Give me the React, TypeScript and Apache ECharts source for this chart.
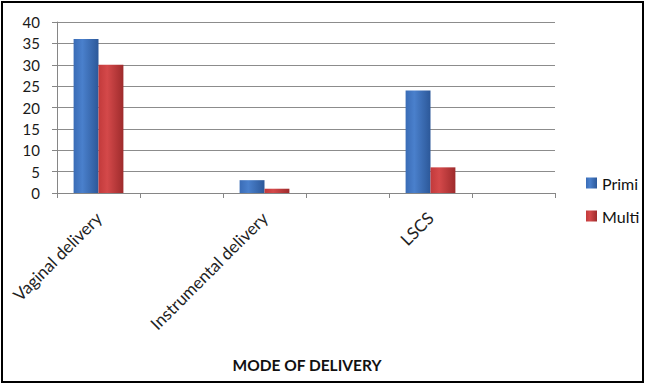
import React, { useEffect, useRef } from "react";
import * as echarts from "echarts";

// Delivery modes; blank slots keep the spacing between the groups
const categories = ["Vaginal delivery", "", "Instrumental delivery", "", "LSCS", ""];
const primiValues = [36, null, 3, null, 24, null];
const multiValues = [30, null, 1, null, 6, null];
const yTicks = { min: 0, max: 40, interval: 5 };

const FONT = "Lato, 'Liberation Sans', sans-serif";

const blueFill = new echarts.graphic.LinearGradient(0, 0, 1, 0, [
  { offset: 0, color: "#3a6cb6" },
  { offset: 0.35, color: "#4a80cc" },
  { offset: 1, color: "#2c5899" },
]);
const redFill = new echarts.graphic.LinearGradient(0, 0, 1, 0, [
  { offset: 0, color: "#c23a3b" },
  { offset: 0.35, color: "#d4494a" },
  { offset: 1, color: "#9e2b2c" },
]);

export default function App() {
  const ref = useRef<HTMLDivElement>(null);

  useEffect(() => {
    if (!ref.current) return;
    const chart = echarts.init(ref.current, undefined, { renderer: "svg" });
    chart.setOption({
      animation: false,
      backgroundColor: "#ffffff",
      grid: { left: 57, top: 22, right: 91, bottom: 192, containLabel: false },
      legend: {
        orient: "vertical",
        left: 586,
        top: 175,
        padding: 0,
        itemWidth: 11,
        itemHeight: 11,
        itemGap: 17,
        icon: "rect",
        textStyle: { fontFamily: FONT, fontSize: 16, lineHeight: 16, color: "#111" },
        data: ["Primi", "Multi"],
      },
      xAxis: {
        type: "category",
        data: categories,
        axisLine: { lineStyle: { color: "#868686", width: 1 } },
        axisTick: { show: true, length: 5, lineStyle: { color: "#868686" } },
        axisLabel: {
          interval: 0,
          rotate: 45,
          margin: 22,
          fontFamily: FONT,
          fontSize: 17,
          color: "#222",
        },
      },
      yAxis: {
        type: "value",
        min: yTicks.min,
        max: yTicks.max,
        interval: yTicks.interval,
        axisLine: { show: true, lineStyle: { color: "#868686", width: 1 } },
        axisTick: { show: true, length: 5, lineStyle: { color: "#868686" } },
        splitLine: { lineStyle: { color: "#8c8c8c", width: 1 } },
        axisLabel: {
          margin: 17,
          fontFamily: FONT,
          fontSize: 15,
          color: "#1a1a1a",
        },
      },
      series: [
        {
          name: "Primi",
          type: "bar",
          data: primiValues,
          barGap: "0%",
          barCategoryGap: "40%",
          itemStyle: { color: blueFill },
        },
        {
          name: "Multi",
          type: "bar",
          data: multiValues,
          itemStyle: { color: redFill },
        },
      ],
      graphic: [
        {
          type: "rect",
          shape: { x: 2, y: 2, width: 641, height: 380 },
          style: { fill: "none", stroke: "#000", lineWidth: 2 },
          silent: true,
        },
        {
          type: "text",
          x: 307,
          y: 365,
          style: {
            text: "MODE OF DELIVERY",
            fontFamily: FONT,
            fontSize: 15.5,
            fontWeight: "bold",
            fill: "#111",
            align: "center",
            verticalAlign: "middle",
          },
        },
      ],
    });
    return () => chart.dispose();
  }, []);

  return (
    <div
      ref={ref}
      style={{ position: "fixed", left: 0, top: 0, width: 646, height: 385 }}
    />
  );
}
